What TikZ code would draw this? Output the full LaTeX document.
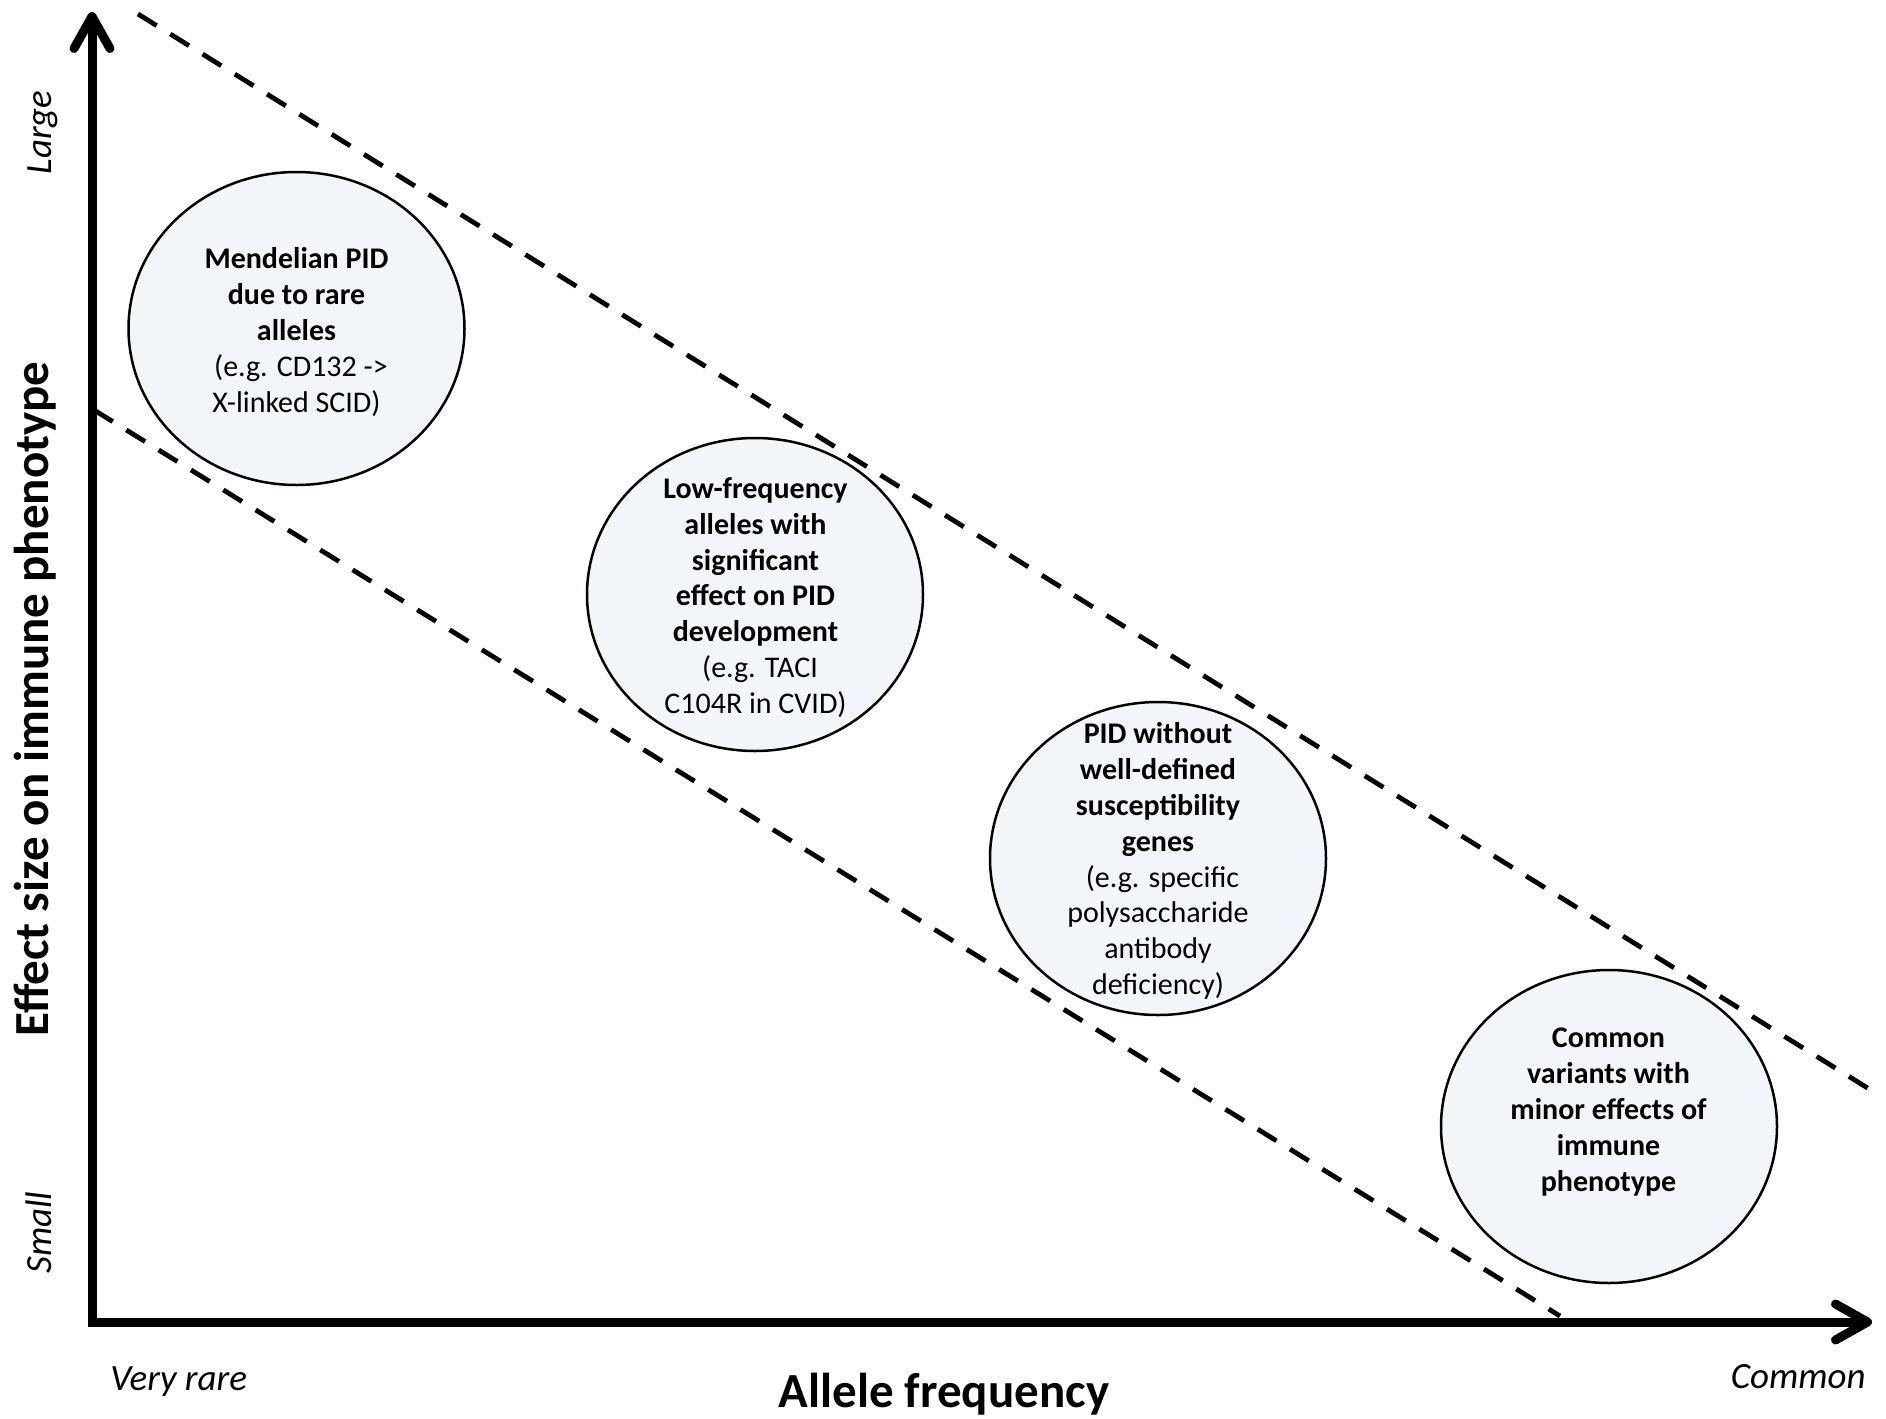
\documentclass[tikz,border=0pt]{standalone}
\usepackage{fontspec}
\setmainfont{Carlito}
\usetikzlibrary{arrows.meta,shapes.geometric}
\definecolor{blobfill}{HTML}{F2F6FA}
\begin{document}
\begin{tikzpicture}[x=0.5pt,y=-0.5pt,
  axisline/.style={line width=4.5pt, line join=miter,
    {Straight Barb[length=16pt,width=18pt,round]}-{Straight Barb[length=16pt,width=18pt,round]}},
  bound/.style={line width=2.4pt, dash pattern=on 11pt off 8pt},
  blob/.style={ellipse, draw, line width=1.25pt, fill=blobfill, minimum width=168pt, minimum height=156.5pt, inner sep=0pt},
  blobtext/.style={align=center, font=\fontsize{15}{17.9}\selectfont, inner sep=0pt},
  axtitle/.style={font=\fontsize{24.5}{29}\selectfont\bfseries, inner sep=0pt},
  axend/.style={font=\fontsize{18.5}{22}\selectfont\itshape, inner sep=0pt}]
\useasboundingbox (0,0) rectangle (1886,1419);
% dashed boundaries
\coordinate (ua) at (138,14);
\coordinate (ub) at (1874,1092);
\coordinate (la) at (94,410);
\coordinate (lb) at (1560,1316);
\draw[bound] (ua) -- (ub);
\draw[bound] (la) -- (lb);
% circles
\node[blob] (c1) at (296.5,328.5) {};
\node[blob] (c2) at (755,594.5) {};
\node[blob] (c3) at (1158,858.5) {};
\node[blob] (c4) at (1609,1126.5) {};
\node[blobtext] (t1) at (296.5,332) {\textbf{Mendelian PID}\\\textbf{due to rare}\\\textbf{alleles}\\\hspace*{0.3em}(e.g. CD132 ->\\X-linked SCID)};
\node[blobtext] (t2) at (755.5,597.5) {\textbf{Low-frequency}\\\textbf{alleles with}\\\textbf{significant}\\\textbf{effect on PID}\\\textbf{development}\\\hspace*{0.3em}(e.g. TACI\\C104R in CVID)};
\node[blobtext] (t3) at (1158,861) {\textbf{PID without}\\\textbf{well-defined}\\\textbf{susceptibility}\\\textbf{genes}\\\hspace*{0.3em}(e.g. specific\\polysaccharide\\antibody\\deficiency)};
\node[blobtext] (t4) at (1608.5,1112) {\textbf{Common}\\\textbf{variants with}\\\textbf{minor effects of}\\\textbf{immune}\\\textbf{phenotype}};
% axes
\coordinate (ytop) at (92,12);
\coordinate (orig) at (92,1322);
\coordinate (xend) at (1872,1322);
\draw[axisline] (ytop) -- (orig) -- (xend);
% labels
\node[axtitle, rotate=90, anchor=base] (ylab) at (48,699) {Effect size on immune phenotype};
\node[axtitle, anchor=base] (xlab) at (944,1407) {Allele frequency};
\node[axend, anchor=base west] (vr) at (110,1390) {Very rare};
\node[axend, anchor=base east] (cm) at (1866,1388) {Common};
\node[axend, rotate=90, anchor=base] (lg) at (51,132.5) {Large};
\node[axend, rotate=90, anchor=base] (sm) at (51,1232.5) {Small};
\end{tikzpicture}
\end{document}
